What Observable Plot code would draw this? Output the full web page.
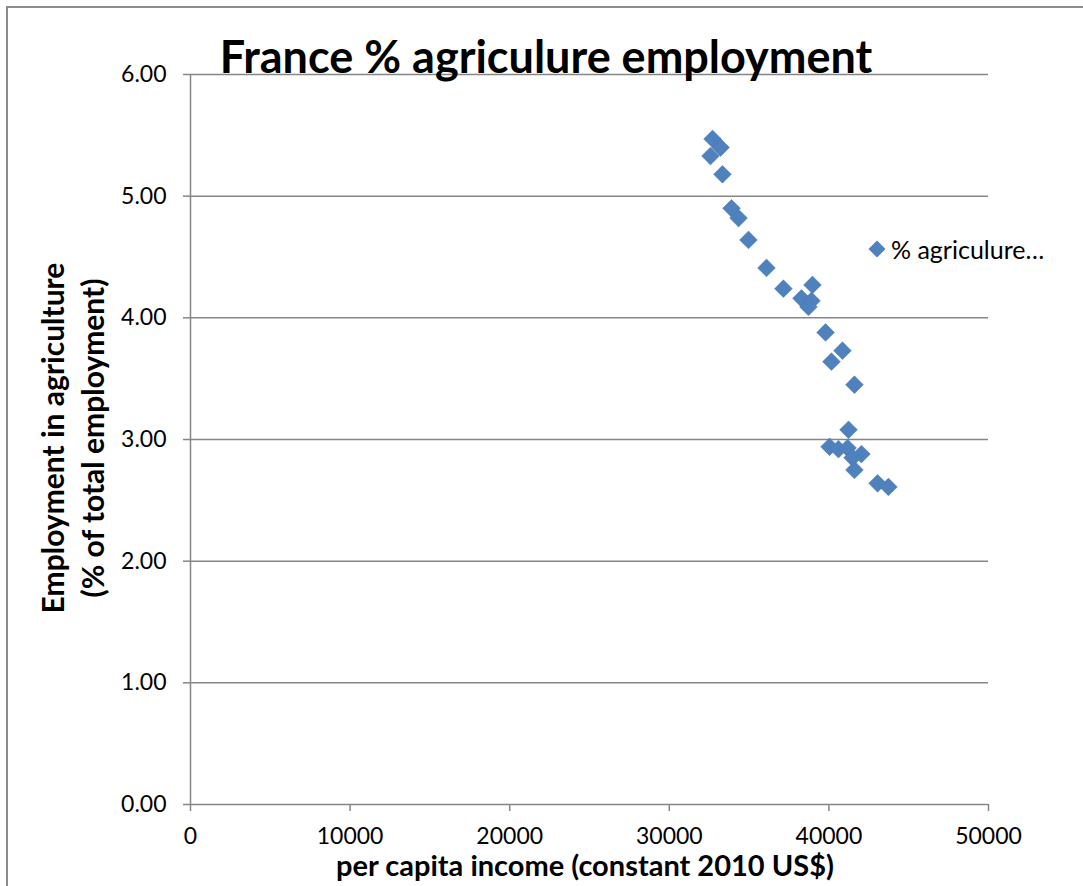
<!DOCTYPE html>
<html>
<head>
<meta charset="utf-8">
<script src="https://cdn.jsdelivr.net/npm/d3@7"></script>
<script src="https://cdn.jsdelivr.net/npm/@observablehq/plot@0.6"></script>
<style>
  html, body { margin: 0; padding: 0; background: #fff; }
  #wrap { position: relative; width: 1083px; height: 886px; overflow: hidden; font-family: Lato, "Open Sans", sans-serif; }
  #frame { position: absolute; left: 6px; top: 6px; width: 1100px; height: 900px; border-top: 2px solid #8c8c8c; border-left: 2px solid #8c8c8c; }
  #chart { position: absolute; left: 0; top: 0; }
  .ov { position: absolute; white-space: nowrap; color: #000; }
  #title { font-weight: 700; font-size: 45px; left: 546px; top: 72px; transform: translate(-50%, -80%); }
  #xtitle { font-weight: 700; font-size: 29px; left: 585px; top: 864px; transform: translate(-50%, -50%); }
  #ytitle { font-weight: 700; font-size: 30px; left: 72px; top: 438px; transform: translate(-50%, -50%) rotate(-90deg); text-align: center; line-height: 40px; }
  #legend { font-size: 25px; left: 868px; top: 249px; transform: translateY(-50%); display: flex; align-items: center; }
  #legend svg { margin-right: 5px; }
</style>
</head>
<body>
<div id="wrap">
  <div id="frame"></div>
  <div id="chart"></div>
  <div class="ov" id="title">France % agriculure employment</div>
  <div class="ov" id="ytitle">Employment in agriculture<br>(% of total employment)</div>
  <div class="ov" id="xtitle">per capita income (constant 2010 US$)</div>
  <div class="ov" id="legend"><svg width="18" height="18" viewBox="-9 -9 18 18"><path d="M0,-8.5L8.5,0L0,8.5L-8.5,0Z" fill="#4F81BD"/></svg><span>% agriculure…</span></div>
</div>
<script>
// per capita income (constant 2010 US$)
const income = [32710, 33210, 32580, 33330, 33900, 34340, 34960, 36090, 37150, 38970, 38280, 38910, 38720, 39790, 40850, 40160, 41600, 41230, 40040, 40600, 41170, 42040, 41480, 41600, 43050, 43730];
// Employment in agriculture (% of total employment)
const agri = [5.47, 5.40, 5.33, 5.18, 4.90, 4.82, 4.64, 4.41, 4.24, 4.27, 4.16, 4.14, 4.09, 3.88, 3.73, 3.64, 3.45, 3.08, 2.94, 2.92, 2.93, 2.88, 2.85, 2.75, 2.64, 2.61];
const xTicks = [0, 10000, 20000, 30000, 40000, 50000];
const yTicks = [0, 1, 2, 3, 4, 5, 6];

const data = income.map((x, i) => ({x, y: agri[i]}));
const gray = "#868686";

const chart = Plot.plot({
  width: 1083,
  height: 886,
  marginLeft: 190,
  marginRight: 95,
  marginTop: 74,
  marginBottom: 82,
  style: {fontFamily: "Lato, 'Open Sans', sans-serif", fontSize: "23px", color: "#000", background: "transparent"},
  x: {domain: [0, 50000], ticks: xTicks, tickFormat: d3.format("d"), label: null},
  y: {domain: [0, 6], ticks: yTicks, tickFormat: d3.format(".2f"), label: null},
  marks: [
    Plot.gridY(yTicks, {stroke: gray, strokeOpacity: 1, strokeWidth: 1.5}),
    Plot.ruleX([0], {y1: 0, y2: 6, stroke: gray, strokeWidth: 1.5}),
    Plot.axisX(xTicks, {tickSize: 7, tickPadding: 16, stroke: gray, strokeWidth: 1.5, fill: "#000", tickFormat: d3.format("d"), label: null}),
    Plot.axisY(yTicks, {tickSize: 7, tickPadding: 17, stroke: gray, strokeWidth: 1.5, fill: "#000", tickFormat: d3.format(".2f"), label: null}),
    Plot.dot(data, {x: "x", y: "y", symbol: "diamond2", r: 8, fill: "#4F81BD", stroke: "#4A7AB5", strokeWidth: 0.5})
  ]
});
document.getElementById("chart").appendChild(chart);
</script>
</body>
</html>
